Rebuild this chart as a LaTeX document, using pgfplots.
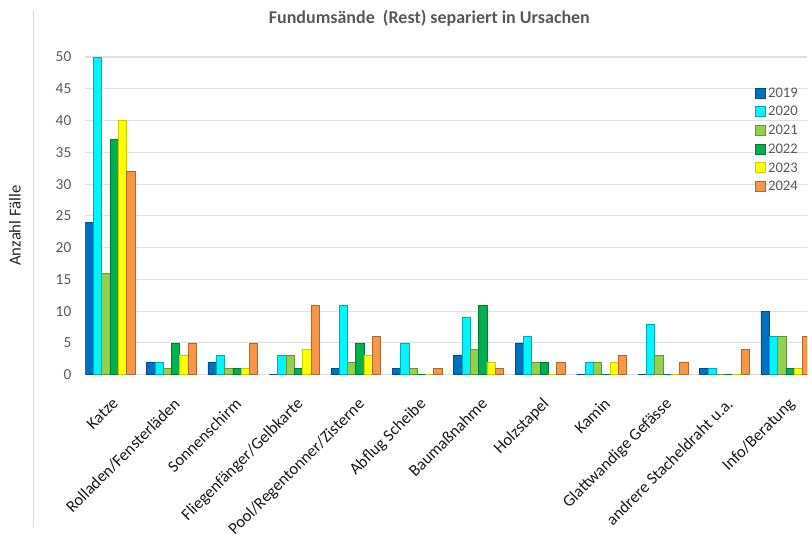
\documentclass[border=0pt]{standalone}
\usepackage{pgfplots}
\pgfplotsset{compat=1.18}
\usepackage{fontspec}
\setmainfont{Carlito}
\usetikzlibrary{calc}

\definecolor{c19}{HTML}{0070C0}
\definecolor{c20}{HTML}{00F5FF}
\definecolor{c21}{HTML}{92D050}
\definecolor{c22}{HTML}{00B050}
\definecolor{c23}{HTML}{FFFF00}
\definecolor{c24}{HTML}{F79646}
\definecolor{txt}{HTML}{595959}

\begin{document}
\begin{tikzpicture}
\begin{axis}[
  name=ax,
  scale only axis,
  width=541.5pt, height=243pt,
  ybar=0pt, bar width=0.135,
  xmin=-0.4, xmax=11.35,
  ymin=0, ymax=51,
  ytick={0,5,...,50},
  xtick={0,...,11},
  xticklabels={Katze,Rolladen/Fensterläden,Sonnenschirm,Fliegenfänger/Gelbkarte,Pool/Regentonner/Zisterne,Abflug Scheibe,Baumaßnahme,Holzstapel,Kamin,Glattwandige Gefässe,andrere Stacheldraht u.a.,Info/Beratung},
  x tick label style={rotate=45, anchor=north east, font=\fontsize{12.5}{13}\selectfont, text=black!90, xshift=-4.5pt, yshift=-6pt},
  y tick label style={font=\fontsize{11.5}{12}\selectfont, text=txt, xshift=-7pt},
  /pgf/number format/assume math mode=true,
  ymajorgrids, grid style={draw=black!12, line width=0.8pt},
  axis line style={draw=none},
  tick style={draw=none},
  ylabel={Anzahl Fälle},
  ylabel style={at={(axis description cs:-0.0975,0.46)}, anchor=center, font=\fontsize{12.5}{14}\selectfont, text=black!85},
  legend style={at={(0.927,0.895)}, anchor=north west, draw=none, fill=none,
    font=\fontsize{11}{12}\selectfont, text=txt, row sep=1.4pt, inner sep=0pt},
  legend cell align=left,
  legend image code/.code={\fill[#1] (0pt,-3.3pt) rectangle (7.5pt,4.2pt);},
]
\addplot[fill=c19, draw=c19!70!black] coordinates {(0,24) (1,2) (2,2) (3,0) (4,1) (5,1) (6,3) (7,5) (8,0) (9,0) (10,1) (11,10)};
\addplot[fill=c20, draw=c20!70!black] coordinates {(0,50) (1,2) (2,3) (3,3) (4,11) (5,5) (6,9) (7,6) (8,2) (9,8) (10,1) (11,6)};
\addplot[fill=c21, draw=c21!70!black] coordinates {(0,16) (1,1) (2,1) (3,3) (4,2) (5,1) (6,4) (7,2) (8,2) (9,3) (10,0) (11,6)};
\addplot[fill=c22, draw=c22!70!black] coordinates {(0,37) (1,5) (2,1) (3,1) (4,5) (5,0) (6,11) (7,2) (8,0) (9,0) (10,0) (11,1)};
\addplot[fill=c23, draw=c23!80!black] coordinates {(0,40) (1,3) (2,1) (3,4) (4,3) (5,0) (6,2) (7,0) (8,2) (9,0) (10,0) (11,1)};
\addplot[fill=c24, draw=c24!70!black] coordinates {(0,32) (1,5) (2,5) (3,11) (4,6) (5,1) (6,1) (7,2) (8,3) (9,2) (10,4) (11,6)};
\legend{2019,2020,2021,2022,2023,2024}
\end{axis}
\path ($(ax.south west)+(-64pt,-114pt)$) rectangle ($(ax.south west)+(545pt,281pt)$);
\draw[black!15, line width=0.8pt] ($(ax.south west)+(-38.6pt,-114pt)$) -- ($(ax.south west)+(-38.6pt,273.5pt)$);
\node[font=\fontsize{13.5}{15}\selectfont\bfseries, text=txt] at ($(ax.south west)+(258pt,267.5pt)$) {Fundumsände\ \ (Rest) separiert in Ursachen};
\end{tikzpicture}
\end{document}
